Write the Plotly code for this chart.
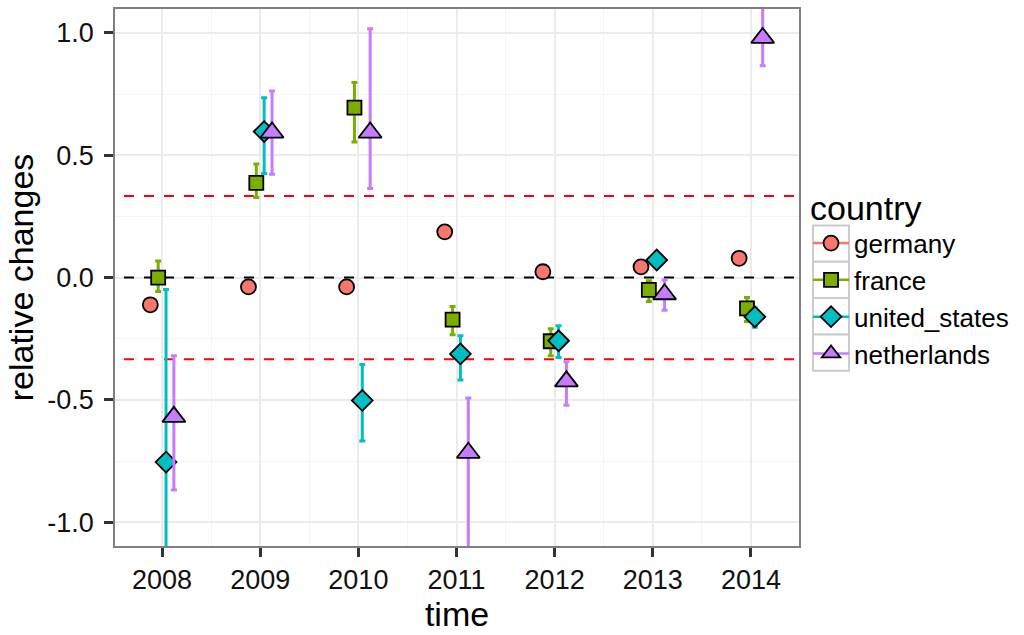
import plotly.graph_objects as go

# ---- data ----
years = [2008, 2009, 2010, 2011, 2012, 2013, 2014]
countries = ["germany", "france", "united_states", "netherlands"]

germany = [-0.111, -0.038, -0.038, 0.187, 0.024, 0.044, 0.079]

france = [0.0, 0.387, 0.695, -0.172, -0.260, -0.050, -0.126]
france_lo = [-0.057, 0.328, 0.554, -0.233, -0.319, -0.098, -0.179]
france_hi = [0.068, 0.464, 0.798, -0.118, -0.209, -0.013, -0.081]

united_states = [-0.754, 0.597, -0.502, -0.312, -0.258, 0.072, -0.160]
united_states_lo = [-1.46, 0.426, -0.668, -0.418, -0.326, 0.060, -0.203]
united_states_hi = [-0.049, 0.735, -0.355, -0.238, -0.197, 0.085, -0.125]

netherlands = [-0.569, 0.593, 0.593, -0.716, -0.424, -0.068, 0.980]
netherlands_lo = [-0.868, 0.423, 0.364, -1.20, -0.522, -0.133, 0.866]
netherlands_hi = [-0.319, 0.763, 1.017, -0.492, -0.344, -0.010, 1.120]

thresholds = [1 / 3, -1 / 3]

# ---- styling ----
colors = {"germany": "#F8766D", "france": "#7CAE00",
          "united_states": "#00BFC4", "netherlands": "#C77CFF"}
symbols = {"germany": "circle", "france": "square",
           "united_states": "diamond", "netherlands": "triangle-up"}
sizes = {"germany": 15, "france": 14, "united_states": 16, "netherlands": 20}
dodge = {"germany": -0.12, "france": -0.04, "united_states": 0.04, "netherlands": 0.12}

series = {
    "germany": (germany, None, None),
    "france": (france, france_lo, france_hi),
    "united_states": (united_states, united_states_lo, united_states_hi),
    "netherlands": (netherlands, netherlands_lo, netherlands_hi),
}

FONT = "Liberation Sans, Arial, Helvetica, sans-serif"

fig = go.Figure()

# reference lines (as line traces so they sit above the grid, under the points)
span = [years[0] - 1, years[-1] + 1]
ref_lines = [(0, "black")] + [(t, "#ff0000") for t in thresholds]
for level, col in ref_lines:
    fig.add_trace(go.Scatter(
        x=span, y=[level, level], mode="lines", showlegend=False, hoverinfo="skip",
        line=dict(color=col, width=2, dash="10px,10px"),
    ))

for c in countries:
    vals, lo, hi = series[c]
    xs = [y + dodge[c] for y in years]
    err = None
    if lo is not None:
        err = dict(type="data", symmetric=False,
                   array=[h - v for h, v in zip(hi, vals)],
                   arrayminus=[v - l for v, l in zip(vals, lo)],
                   color=colors[c], thickness=3, width=3)
    fig.add_trace(go.Scatter(
        x=xs, y=vals, mode="markers", name=c, showlegend=False,
        error_y=err,
        marker=dict(symbol=symbols[c], size=sizes[c], color=colors[c],
                    line=dict(color="black", width=1.8)),
    ))

# legend entries (point + line key, like the ggplot legend)
for c in countries:
    fig.add_trace(go.Scatter(
        x=[None], y=[None], mode="lines+markers", name=c,
        line=dict(color=colors[c], width=2.5),
        marker=dict(symbol=symbols[c], size=sizes[c], color=colors[c],
                    line=dict(color="black", width=1.8)),
    ))

# grey key boxes of the legend (paper coords)
key_x0, key_x1 = 1.0205, 1.0731
key_top, key_h = 0.597, 0.0677
for i in range(len(countries)):
    fig.add_shape(type="rect", xref="paper", yref="paper",
                  x0=key_x0, x1=key_x1,
                  y0=key_top - (i + 1) * key_h, y1=key_top - i * key_h,
                  line=dict(color="#cccccc", width=2), fillcolor="white", layer="below")

axis_common = dict(
    showline=True, mirror=True, linecolor="#7f7f7f", linewidth=1.5,
    showgrid=True, gridcolor="#ebebeb", gridwidth=1.5,
    ticks="outside", ticklen=9, tickwidth=2.5, tickcolor="#333333",
    tickfont=dict(size=27, color="#111111", family=FONT),
    zeroline=False,
)

fig.update_layout(
    width=1024, height=635,
    margin=dict(l=115, r=225, t=7, b=89),
    plot_bgcolor="white", paper_bgcolor="white",
    font=dict(family=FONT, color="black"),
    xaxis=dict(
        range=[2007.52, 2014.49], tickvals=years, ticktext=[str(y) for y in years],
        minor=dict(dtick=0.5, tick0=2007.5, showgrid=True, gridcolor="#f4f4f4", gridwidth=1, ticks=""),
        title=dict(text="time", font=dict(size=34, family=FONT), standoff=6),
        **axis_common,
    ),
    yaxis=dict(
        range=[-1.097, 1.098], tickvals=[-1, -0.5, 0, 0.5, 1],
        ticktext=["-1.0", "-0.5", "0.0", "0.5", "1.0"],
        minor=dict(dtick=0.25, tick0=0.25, showgrid=True, gridcolor="#f4f4f4", gridwidth=1, ticks=""),
        title=dict(text="relative changes", font=dict(size=34, family=FONT), standoff=3),
        ticklabelstandoff=5,
        **axis_common,
    ),
    legend=dict(
        x=1.0132, xanchor="left", y=0.69, yanchor="top",
        title=dict(text="country", font=dict(size=34, family=FONT)),
        font=dict(size=26, family=FONT), itemwidth=36,
        bgcolor="rgba(0,0,0,0)", tracegroupgap=0,
    ),
    showlegend=True,
)

fig.write_html("out.html", config={"displayModeBar": False},
               post_script="document.body.style.margin='0';")
